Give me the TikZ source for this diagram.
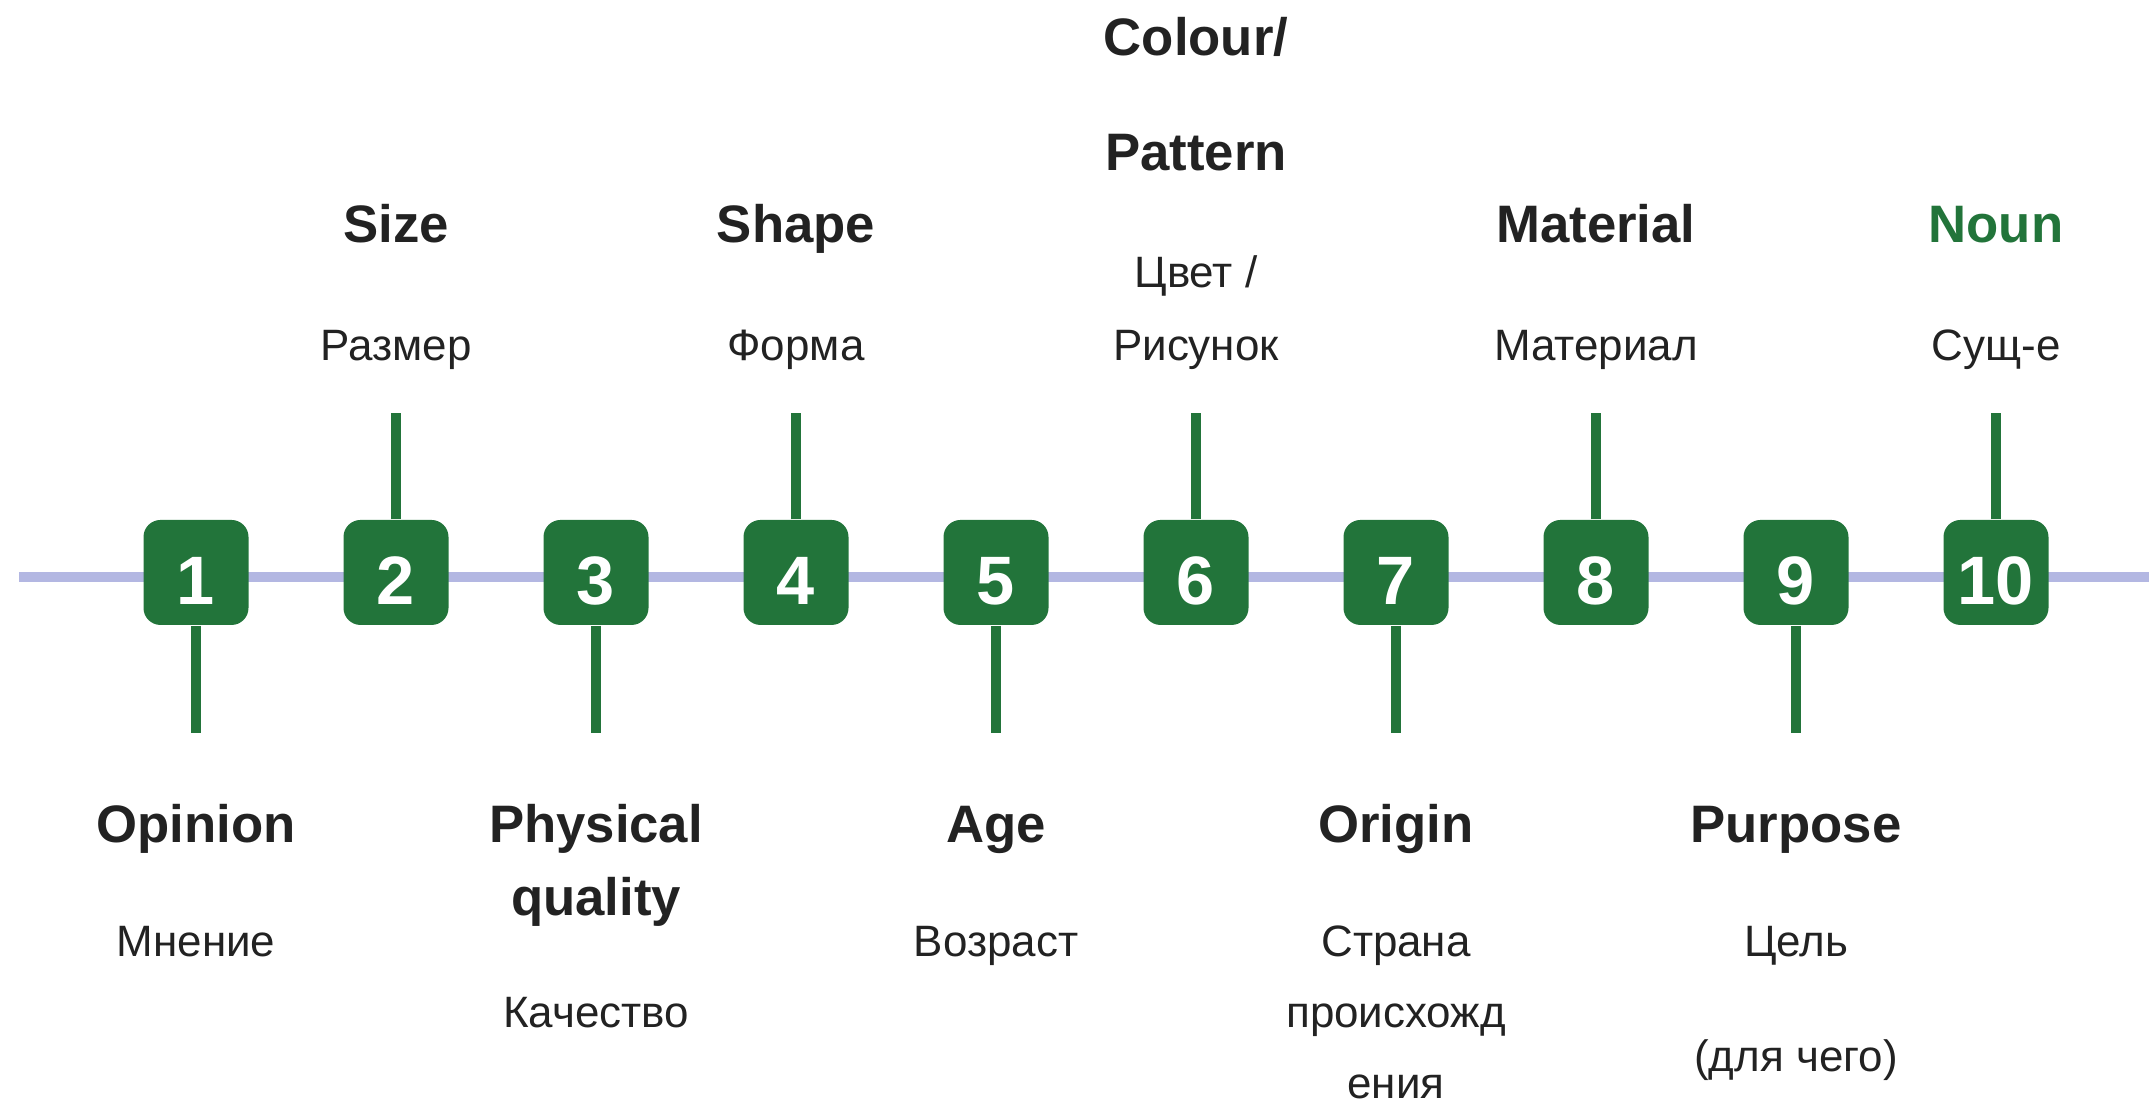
\documentclass[tikz,border=0pt]{standalone}
\usepackage{fontspec}
\setmainfont{Liberation Sans}
\usetikzlibrary{positioning}
\definecolor{boxgreen}{HTML}{22743A}
\definecolor{linelav}{HTML}{B3B7E2}
\definecolor{textgray}{HTML}{222222}

\begin{document}
\begin{tikzpicture}[
        numbox/.style={fill=boxgreen, rounded corners=0.17cm, minimum size=1.05cm, inner sep=0pt,
            text height=0.65cm, text depth=0cm, text=white, font=\fontsize{19.5}{20}\selectfont\bfseries},
        stem/.style={draw=boxgreen, line width=0.1cm},
        en/.style={anchor=base, text=textgray, inner sep=0pt, font=\fontsize{15}{18}\selectfont\bfseries},
        ru/.style={anchor=base, text=textgray, inner sep=0pt, font=\fontsize{12.5}{15}\selectfont}
    ]
            \useasboundingbox (0,0) rectangle (21.49,11.04);

            % the time line
            \coordinate (lineL) at (0.19,5.27);
            \coordinate (lineR) at (21.49,5.27);
            \draw[linelav, line width=0.1cm] (lineL) -- (lineR);

            \node[numbox] (b1) at (1.96,5.315) {1};
            \node[numbox] (b2) at (3.96,5.315) {2};
            \node[numbox] (b3) at (5.96,5.315) {3};
            \node[numbox] (b4) at (7.96,5.315) {4};
            \node[numbox] (b5) at (9.96,5.315) {5};
            \node[numbox] (b6) at (11.96,5.315) {6};
            \node[numbox] (b7) at (13.96,5.315) {7};
            \node[numbox] (b8) at (15.96,5.315) {8};
            \node[numbox] (b9) at (17.96,5.315) {9};
            \node[numbox] (b10) at (19.96,5.315) {10};

            % stems
            \coordinate[below=1.07cm of b1.south] (s1);
            \coordinate[above=1.06cm of b2.north] (s2);
            \coordinate[below=1.07cm of b3.south] (s3);
            \coordinate[above=1.06cm of b4.north] (s4);
            \coordinate[below=1.07cm of b5.south] (s5);
            \coordinate[above=1.06cm of b6.north] (s6);
            \coordinate[below=1.07cm of b7.south] (s7);
            \coordinate[above=1.06cm of b8.north] (s8);
            \coordinate[below=1.07cm of b9.south] (s9);
            \coordinate[above=1.06cm of b10.north] (s10);
            \draw[stem] (b1.south) -- (s1);
            \draw[stem] (b2.north) -- (s2);
            \draw[stem] (b3.south) -- (s3);
            \draw[stem] (b4.north) -- (s4);
            \draw[stem] (b5.south) -- (s5);
            \draw[stem] (b6.north) -- (s6);
            \draw[stem] (b7.south) -- (s7);
            \draw[stem] (b8.north) -- (s8);
            \draw[stem] (b9.south) -- (s9);
            \draw[stem] (b10.north) -- (s10);

            % labels above
            \node[en] (size) at (3.96,8.61) {Size};
            \node[ru] (razmer) at (3.96,7.43) {Размер};
            \node[en] (shape) at (7.96,8.61) {Shape};
            \node[ru] (forma) at (7.96,7.43) {Форма};
            \node[en] (colour) at (11.96,10.48) {Colour/};
            \node[en] (pattern) at (11.96,9.33) {Pattern};
            \node[ru] (cvet) at (11.96,8.16) {Цвет /};
            \node[ru] (risunok) at (11.96,7.43) {Рисунок};
            \node[en] (material) at (15.96,8.61) {Material};
            \node[ru] (materialru) at (15.96,7.43) {Материал};
            \node[en, text=boxgreen] (noun) at (19.96,8.61) {Noun};
            \node[ru] (sushch) at (19.96,7.43) {Сущ-е};

            % labels below
            \node[en] (opinion) at (1.96,2.61) {Opinion};
            \node[ru] (mnenie) at (1.96,1.47) {Мнение};
            \node[en] (physical) at (5.96,2.61) {Physical};
            \node[en] (quality) at (5.96,1.88) {quality};
            \node[ru] (kachestvo) at (5.96,0.76) {Качество};
            \node[en] (age) at (9.96,2.61) {Age};
            \node[ru] (vozrast) at (9.96,1.47) {Возраст};
            \node[en] (origin) at (13.96,2.61) {Origin};
            \node[ru] (strana) at (13.96,1.47) {Страна};
            \node[ru] (proish) at (13.96,0.76) {происхожд};
            \node[ru] (enija) at (13.96,0.05) {ения};
            \node[en] (purpose) at (17.96,2.61) {Purpose};
            \node[ru] (cel) at (17.96,1.47) {Цель};
            \node[ru] (dlja) at (17.96,0.32) {(для чего)};
        \end{tikzpicture}
\end{document}
